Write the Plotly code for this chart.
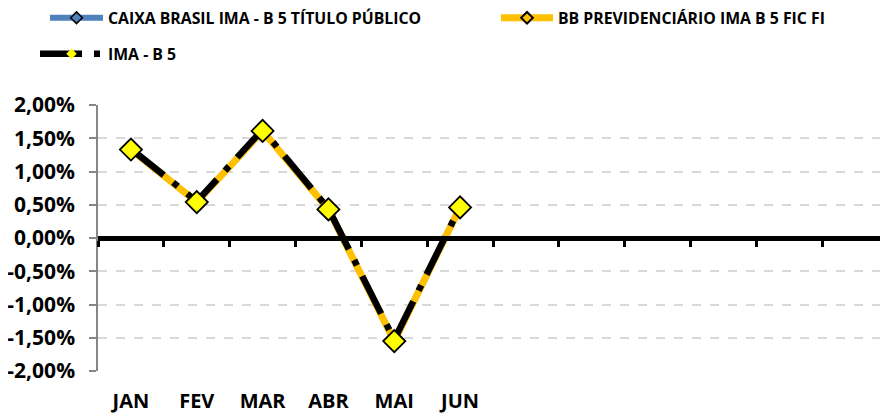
import plotly.graph_objects as go

months = ["JAN", "FEV", "MAR", "ABR", "MAI", "JUN", "JUL", "AGO", "SET", "OUT", "NOV", "DEZ"]
month_labels = ["JAN", "FEV", "MAR", "ABR", "MAI", "JUN", "", "", "", "", "", ""]
caixa = [1.33, 0.54, 1.61, 0.43, -1.55, 0.46]
bb = [1.33, 0.54, 1.61, 0.43, -1.55, 0.46]
ima_b5 = [1.34, 0.55, 1.63, 0.44, -1.53, 0.47]
y_ticks = [2.0, 1.5, 1.0, 0.5, 0.0, -0.5, -1.0, -1.5, -2.0]
y_tick_labels = ["2,00%", "1,50%", "1,00%", "0,50%", "0,00%", "-0,50%", "-1,00%", "-1,50%", "-2,00%"]

FONT = "Open Sans"
W, H = 880, 406
n = len(caixa)
x = months[:n]

fig = go.Figure()
fig.add_trace(go.Scatter(
    x=x, y=caixa, name="CAIXA BRASIL IMA - B 5 TÍTULO PÚBLICO", mode="lines+markers",
    line=dict(color="#4F81BD", width=6),
    marker=dict(symbol="diamond", size=9, color="#4F81BD", line=dict(color="black", width=1.5)),
    legend="legend",
))
fig.add_trace(go.Scatter(
    x=x, y=bb, name="BB PREVIDENCIÁRIO IMA B 5 FIC FI", mode="lines+markers",
    line=dict(color="#FFC000", width=7),
    marker=dict(symbol="diamond", size=9, color="#FFC000", line=dict(color="black", width=2)),
    legend="legend3",
))
fig.add_trace(go.Scatter(
    x=x, y=ima_b5, name="IMA - B 5", mode="lines+markers",
    line=dict(color="black", width=6.5, dash="42px,12px,6px,12px"),
    marker=dict(symbol="diamond", size=8, color="#FFFF00", line=dict(color="#FFFF00", width=0)),
    legend="legend2",
))
fig.add_trace(go.Scatter(
    x=x, y=bb, mode="markers", showlegend=False, hoverinfo="skip",
    marker=dict(symbol="diamond", size=17, color="#FFFF00", line=dict(color="black", width=1.8)),
))
# axis crossing at zero (category boundary ticks)
fig.add_trace(go.Scatter(
    x=months, y=[None] * len(months), xaxis="x2", showlegend=False, hoverinfo="skip", mode="lines",
))

leg_font = dict(family=FONT, size=15.8, color="black", weight="bold")


def leg(px, py, iw):
    return dict(
        orientation="h", xref="container", yref="container",
        x=px / W, y=1 - py / H, xanchor="left", yanchor="middle",
        font=leg_font, itemwidth=iw, bgcolor="rgba(0,0,0,0)",
    )


fig.update_layout(
    width=W, height=H,
    margin=dict(l=90, r=0, t=97, b=43),
    paper_bgcolor="white", plot_bgcolor="white",
    font=dict(family=FONT, color="black", weight="bold"),
    showlegend=True,
    legend=leg(37, 10, 53),
    legend3=leg(488, 10, 52),
    legend2=leg(27, 46, 63),
    xaxis=dict(
        type="category", categoryorder="array", categoryarray=months,
        range=[-0.5, len(months) - 0.5],
        tickvals=months, ticktext=month_labels,
        showline=False, showgrid=False, zeroline=False, ticks="",
        ticklabelstandoff=16, automargin=False,
        tickfont=dict(family=FONT, size=20, color="black", weight="bold"),
    ),
    xaxis2=dict(
        type="category", categoryorder="array", categoryarray=months,
        overlaying="x", matches="x", anchor="free", position=0.5,
        showline=True, linecolor="black", linewidth=5,
        ticks="outside", tickson="boundaries", ticklen=6, tickwidth=3, tickcolor="black",
        showticklabels=False, showgrid=False, zeroline=False,
    ),
    yaxis=dict(
        range=[-2.0, 2.0], tickvals=y_ticks, ticktext=y_tick_labels,
        showline=True, linecolor="#868686", linewidth=1.5,
        ticks="outside", ticklen=7, tickcolor="#868686", tickwidth=1.5,
        showgrid=True, gridcolor="#D9D9D9", gridwidth=1.5, griddash="dash",
        zeroline=False, automargin=False, ticklabelstandoff=10,
        tickfont=dict(family=FONT, size=21, color="black", weight="bold"),
    ),
)

fig.write_html("out.html")
